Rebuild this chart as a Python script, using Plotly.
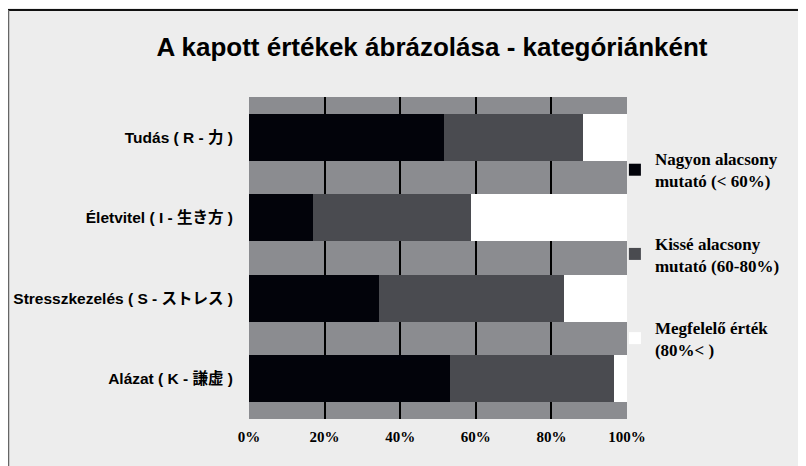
import plotly.graph_objects as go

categories = ['Tudás ( R - 力 )', 'Életvitel ( I - 生き方 )',
              'Stresszkezelés ( S - ストレス )', 'Alázat ( K - 謙虚 )']
series_names = ['Nagyon alacsony<br>mutató (< 60%)',
                'Kissé alacsony<br>mutató (60-80%)',
                'Megfelelő érték<br>(80%< )']
very_low = [51.6, 16.8, 34.3, 53.2]
slightly_low = [36.7, 42.0, 49.0, 43.3]
adequate = [11.7, 41.2, 16.7, 3.5]
x_ticks = [0, 20, 40, 60, 80, 100]
x_tick_text = ['0%', '20%', '40%', '60%', '80%', '100%']

colors = ['#02030a', '#4a4b50', '#ffffff']
bg = '#ededed'
plot_bg = '#8b8c90'

# the page body adds an 8px margin, so the figure is 8px smaller than the window
W, H = 798, 458
L, R, T, B = 241, 179, 89, 47

fig = go.Figure()
for i, (name, vals) in enumerate(zip(series_names, [very_low, slightly_low, adequate])):
    fig.add_bar(y=categories, x=vals, name=name, orientation='h',
                marker=dict(color=colors[i], line=dict(width=0)),
                legendgroup=f'g{i}')

fig.update_layout(
    barmode='stack',
    bargap=0.42,
    width=W, height=H,
    margin=dict(l=L, r=R, t=T, b=B, autoexpand=False),
    paper_bgcolor=bg,
    plot_bgcolor=plot_bg,
    title=dict(text='A kapott értékek ábrázolása - kategóriánként',
               x=424 / W, xanchor='center', y=1 - 39 / H, yanchor='middle',
               font=dict(family='Liberation Sans, Arial, sans-serif', size=26,
                         color='#000000', weight='bold')),
    legend=dict(x=0.968, xanchor='left', y=0.863, yanchor='top',
                traceorder='grouped', tracegroupgap=37,
                bgcolor='rgba(0,0,0,0)',
                font=dict(family='Liberation Serif, Times New Roman, serif',
                          size=17, color='#000000', weight='bold')),
    showlegend=True,
)

fig.update_xaxes(range=[0, 100], tickvals=x_ticks, ticktext=x_tick_text,
                 showgrid=True, gridcolor='#000000', gridwidth=1.5,
                 zeroline=True, zerolinecolor=plot_bg, zerolinewidth=1,
                 ticks='', ticklabelstandoff=7,
                 tickfont=dict(family='Liberation Serif, Times New Roman, serif',
                               size=15, color='#000000', weight='bold'),
                 fixedrange=True)
fig.update_yaxes(autorange='reversed', showgrid=False, ticks='',
                 ticklabelstandoff=15,
                 tickfont=dict(family='Liberation Sans, Noto Sans CJK JP, sans-serif',
                               size=15.5, color='#000000', weight='bold'),
                 fixedrange=True)

# outer frame lines (top and left) of the original picture
pw, ph = W - L - R, H - T - B
px_x = lambda p: (p - L) / pw
px_y = lambda p: (H - B - p) / ph
fig.add_shape(type='line', xref='paper', yref='paper',
              x0=px_x(0), x1=px_x(W), y0=px_y(2), y1=px_y(2),
              line=dict(color='#111111', width=2))
fig.add_shape(type='line', xref='paper', yref='paper',
              x0=px_x(0.5), x1=px_x(0.5), y0=px_y(2), y1=px_y(H),
              line=dict(color='#666666', width=1.5))

fig.write_html('out.html')
